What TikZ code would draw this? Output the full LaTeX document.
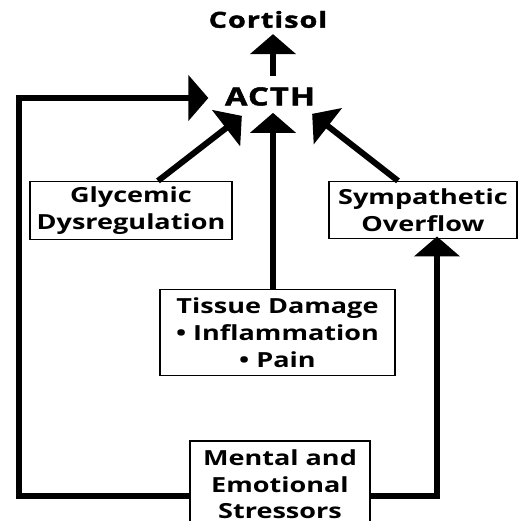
\documentclass[tikz,border=0pt]{standalone}
\usepackage{fontspec}
\usetikzlibrary{arrows.meta, positioning}
\newfontfamily\titlefont[FakeStretch=1.3, LetterSpace=5, FakeBold=2]{Open Sans}
\newfontfamily\boxfont[FakeStretch=1.3]{Open Sans}

\begin{document}
\begin{tikzpicture}[
    x=1pt, y=1pt,
    title/.style={inner sep=3pt},
    box/.style={rectangle, draw, line width=1.6pt, fill=white, inner sep=0pt, align=center, font=\boxfont\bfseries\fontsize{20.8}{26.7}\selectfont},
    arrow/.style={-{Triangle[length=20pt, width=45pt]}, line width=6pt}
]
\useasboundingbox[fill=white] (0,0) rectangle (522,-521);

\node[title, font=\titlefont\bfseries\fontsize{25}{28}\selectfont] (acth) at (270,-96.5) {ACTH};
\node[title, font=\titlefont\bfseries\fontsize{22}{25}\selectfont, above=53pt of acth, xshift=-2pt] (cortisol) {Cortisol};
\node[box, minimum width=202pt, minimum height=58pt, below=72pt of acth, xshift=-139pt] (glyc) {Glycemic\\Dysregulation};
\node[box, minimum width=188pt, minimum height=57pt, below=72pt of acth, xshift=153pt] (symp) {Sympathetic\\Overflow};
\node[box, minimum width=235pt, minimum height=86pt, below=180pt of acth, xshift=7.5pt] (tissue) {Tissue Damage\\\textbullet{} Inflammation\\\textbullet{} Pain};
\node[box, minimum width=180pt, minimum height=86pt, below=64pt of tissue, xshift=2.5pt] (mental) {Mental and\\Emotional\\Stressors};

\draw[arrow] ([xshift=3pt, yshift=8pt]acth.north) -- ++(0,42);
\draw[arrow] ([xshift=27pt]glyc.north) -- ([xshift=20pt, yshift=-7pt]acth.south west);
\draw[arrow] ([xshift=-4.5pt]tissue.north) -- ([xshift=3pt, yshift=-4pt]acth.south);
\draw[arrow] ([xshift=-25pt]symp.north) -- ([xshift=-6pt, yshift=-5pt]acth.south east);
\draw[arrow] ([yshift=-12pt]mental.west) -- ++(-170,0) |- ([xshift=-13.5pt, yshift=-1.5pt]acth.west);
\draw[arrow] ([yshift=-12pt]mental.east) -| ([xshift=14pt, yshift=3pt]symp.south);

\end{tikzpicture}
\end{document}
